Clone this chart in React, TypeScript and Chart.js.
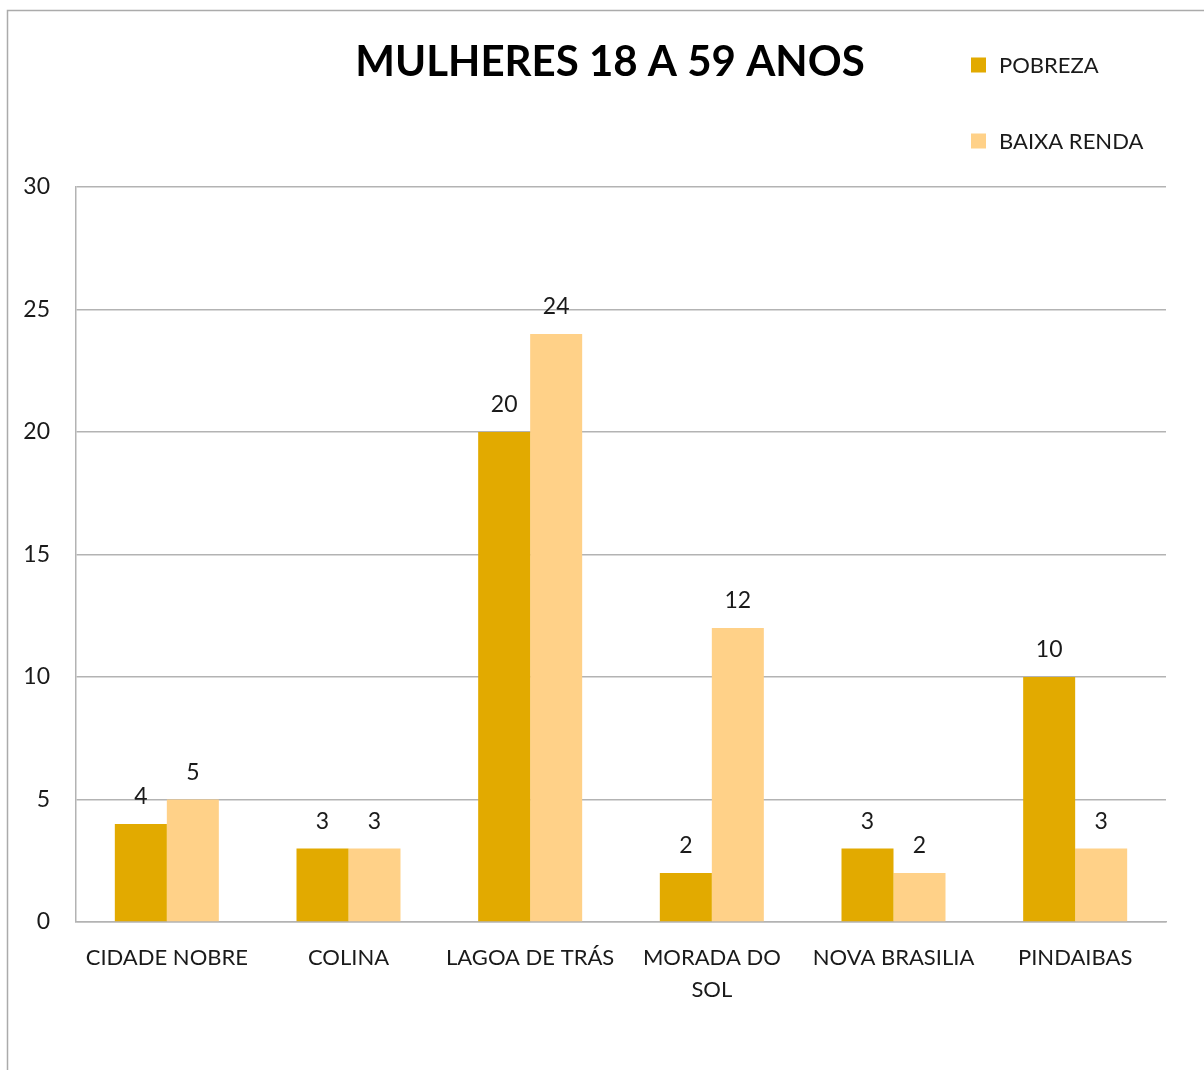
import React, { useEffect, useRef } from 'react';
import { Chart, registerables } from 'chart.js';

Chart.register(...registerables);

const TITLE = 'MULHERES 18 A 59 ANOS';
const categories: (string | string[])[] = [
  'CIDADE NOBRE',
  'COLINA',
  'LAGOA DE TRÁS',
  ['MORADA DO', 'SOL'],
  'NOVA BRASILIA',
  'PINDAIBAS',
];
const seriesNames = ['POBREZA', 'BAIXA RENDA'];
const pobreza = [4, 3, 20, 2, 3, 10];
const baixaRenda = [5, 3, 24, 12, 2, 3];
const yMin = 0;
const yMax = 30;
const yStep = 5;

const COLORS = ['#E2AA00', '#FFD188'];
const FONT = 'Lato, "Open Sans", sans-serif';
const TEXT = '#1a1a1a';
const GRID = '#b3b3b3';

const decorPlugin = {
  id: 'decor',
  beforeDraw(chart: any) {
    const ctx = chart.ctx;
    ctx.save();
    ctx.fillStyle = '#ffffff';
    ctx.fillRect(0, 0, chart.width, chart.height);
    ctx.strokeStyle = '#ababab';
    ctx.lineWidth = 1.5;
    ctx.strokeRect(7.5, 10.5, chart.width + 100, chart.height + 100);
    ctx.restore();
  },
  afterDraw(chart: any) {
    const ctx = chart.ctx;
    ctx.save();
    // title
    ctx.fillStyle = '#000';
    ctx.font = `bold 42px ${FONT}`;
    ctx.textAlign = 'center';
    ctx.textBaseline = 'middle';
    ctx.fillText(TITLE, 610, 62);
    // legend
    ctx.font = `22px ${FONT}`;
    ctx.textAlign = 'left';
    chart.data.datasets.forEach((ds: any, i: number) => {
      const cy = 65 + i * 76;
      ctx.fillStyle = ds.backgroundColor;
      ctx.fillRect(971, cy - 7.5, 15, 15);
      ctx.fillStyle = TEXT;
      ctx.fillText(ds.label, 999, cy + 1);
    });
    ctx.restore();
  },
  afterDatasetsDraw(chart: any) {
    const ctx = chart.ctx;
    ctx.save();
    ctx.fillStyle = TEXT;
    ctx.font = `23px ${FONT}`;
    ctx.textAlign = 'center';
    ctx.textBaseline = 'middle';
    chart.data.datasets.forEach((ds: any, di: number) => {
      const meta = chart.getDatasetMeta(di);
      meta.data.forEach((el: any, i: number) => {
        ctx.fillText(String(ds.data[i]), el.x, el.y - 27);
      });
    });
    ctx.restore();
  },
};

export default function App() {
  const ref = useRef<HTMLCanvasElement | null>(null);
  useEffect(() => {
    if (!ref.current) return;
    const chart = new Chart(ref.current, {
      type: 'bar',
      data: {
        labels: categories,
        datasets: [
          { label: seriesNames[0], data: pobreza, backgroundColor: COLORS[0] },
          { label: seriesNames[1], data: baixaRenda, backgroundColor: COLORS[1] },
        ],
      },
      options: {
        animation: false,
        responsive: false,
        devicePixelRatio: 1,
        layout: { padding: { top: 187, right: 38, left: 0, bottom: 0 } },
        plugins: {
          legend: { display: false },
          title: { display: false },
          tooltip: { enabled: false },
        },
        datasets: {
          bar: { categoryPercentage: 0.5725, barPercentage: 1 },
        },
        scales: {
          x: {
            grid: { display: false, drawTicks: false },
            border: { display: true, color: GRID, width: 1.5 },
            ticks: {
              color: TEXT,
              font: { family: FONT, size: 22, lineHeight: 32 / 22 },
              padding: 20,
              maxRotation: 0,
              autoSkip: false,
            },
            afterFit(axis: any) {
              axis.height = 148;
            },
          },
          y: {
            min: yMin,
            max: yMax,
            ticks: {
              stepSize: yStep,
              color: TEXT,
              font: { family: FONT, size: 23 },
              padding: 26,
            },
            grid: { color: GRID, lineWidth: 1.5, drawTicks: false },
            border: { display: true, color: GRID, width: 1.5 },
            afterFit(axis: any) {
              axis.width = 76;
            },
          },
        },
      },
      plugins: [decorPlugin],
    });
    return () => chart.destroy();
  }, []);
  return (
    <div style={{ position: 'fixed', left: 0, top: 0, width: 1204, height: 1070, background: '#fff' }}>
      <canvas ref={ref} width={1204} height={1070} style={{ display: 'block', width: 1204, height: 1070 }} />
    </div>
  );
}
